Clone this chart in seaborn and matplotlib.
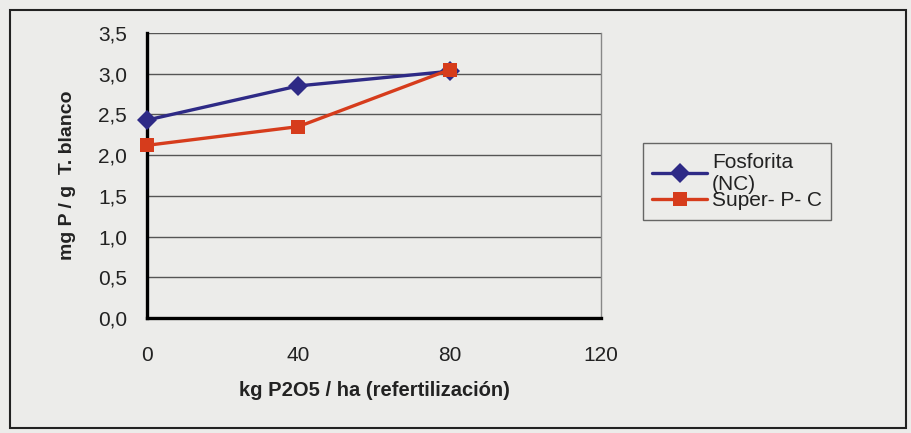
import matplotlib
matplotlib.use("Agg")
import matplotlib.pyplot as plt
import seaborn as sns
import pandas as pd

x_vals = [0, 40, 80]
fosforita = [2.43, 2.85, 3.03]
superp = [2.12, 2.35, 3.05]
series_names = ["Fosforita\n(NC)", "Super- P- C"]
y_ticks = [0.0, 0.5, 1.0, 1.5, 2.0, 2.5, 3.0, 3.5]
x_ticks = [0, 40, 80, 120]

df = pd.DataFrame({
    "x": x_vals * 2,
    "y": fosforita + superp,
    "serie": [series_names[0]] * 3 + [series_names[1]] * 3,
})

sns.set_style("white")
plt.rcParams["font.family"] = ["Liberation Sans", "DejaVu Sans"]

bg = "#ececea"
fig = plt.figure(figsize=(9.11, 4.33), dpi=100, facecolor=bg)
ax = fig.add_axes([0.161, 0.2656, 0.499, 0.6582])
ax.set_facecolor(bg)

# outer border
fig.patches.append(plt.Rectangle((0.011, 0.012), 0.984, 0.965, transform=fig.transFigure,
                                 fill=False, edgecolor="#222222", linewidth=1.5))

palette = {series_names[0]: "#2e2a86", series_names[1]: "#d63c1c"}
markers = {series_names[0]: "D", series_names[1]: "s"}
sns.lineplot(data=df, x="x", y="y", hue="serie", style="serie", palette=palette,
             markers=markers, dashes=False, markersize=10, linewidth=2.4, ax=ax,
             markeredgewidth=0, clip_on=False, zorder=5)

ax.set_xlim(0, 120)
ax.set_ylim(0, 3.5)
ax.set_xticks(x_ticks)
ax.set_xticklabels([str(v) for v in x_ticks], fontsize=15)
ax.set_yticks(y_ticks)
ax.set_yticklabels([f"{v:.1f}".replace(".", ",") for v in y_ticks], fontsize=15)
for yv in y_ticks[1:]:
    ax.axhline(yv, color="#555555", linewidth=1.0, zorder=0)
ax.spines["left"].set_linewidth(2.4)
ax.spines["bottom"].set_linewidth(2.4)
ax.spines["left"].set_color("black")
ax.spines["bottom"].set_color("black")
ax.spines["right"].set_color("#888888")
ax.spines["right"].set_linewidth(1.0)
ax.spines["top"].set_visible(False)
ax.tick_params(axis="y", direction="out", length=6, width=1.8, pad=8, colors="black")
ax.tick_params(axis="x", direction="out", length=6, width=2.2, pad=14, colors="black")
for t in ax.get_xticklabels() + ax.get_yticklabels():
    t.set_color("#222222")

ax.set_xlabel("kg P2O5 / ha (refertilización)", fontsize=14.5, fontweight="bold",
              labelpad=12, color="#222222")
ax.set_ylabel("mg P / g  T. blanco", fontsize=14, fontweight="bold",
              labelpad=16, color="#222222")

handles, labels = ax.get_legend_handles_labels()
leg = ax.legend(handles, labels, loc="upper left", bbox_to_anchor=(1.069, 0.65),
                frameon=True, fancybox=False, edgecolor="#444444", facecolor=bg,
                handlelength=2.6, borderpad=0.45, labelspacing=-0.1,
                handletextpad=0.25, prop={"size": 15})
leg.get_frame().set_linewidth(1.0)
for t in leg.get_texts():
    t.set_color("#222222")

fig.savefig("out.png", dpi=100, facecolor=bg)
